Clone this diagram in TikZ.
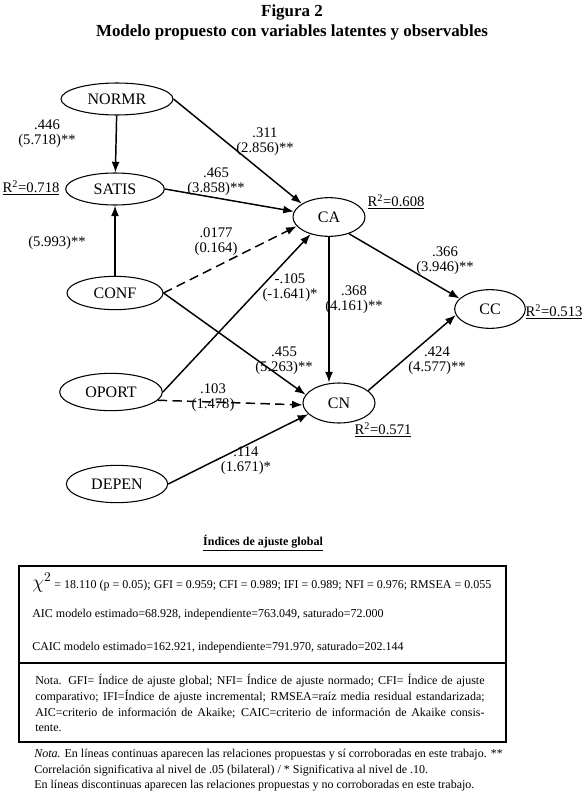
\documentclass[tikz,border=0pt]{standalone}
\usepackage{fontspec}
\setmainfont{Liberation Serif}
\usetikzlibrary{shapes.geometric,arrows.meta}

\begin{document}
\begin{tikzpicture}[x=0.75pt,y=-0.75pt,>={Latex[length=8pt,width=6pt]},
  lat/.style={draw,ellipse,line width=0.8pt,inner sep=0pt,font=\fontsize{12}{13}\selectfont},
  link/.style={->,line width=1.1pt},
  linkns/.style={link,dash pattern=on 7pt off 4pt},
  coef/.style={align=center,inner sep=0pt,font=\fontsize{11}{11.5}\selectfont},
  rsq/.style={inner sep=0pt,font=\fontsize{11}{12}\selectfont},
  boxtxt/.style={anchor=west,inner sep=0pt,font=\fontsize{9}{12}\selectfont}]
  \useasboundingbox (0,0) rectangle (584,803);

  % titulo
  \node[align=center,font=\bfseries\fontsize{12.7}{15}\selectfont] (titulo) at (292,22) {Figura 2\\Modelo propuesto con variables latentes y observables};

  % variables
  \node[lat,minimum width=84pt,minimum height=24pt] (normr) at (117,99) {NORMR};
  \node[lat,minimum width=74pt,minimum height=24pt] (satis) at (115,189) {SATIS};
  \node[lat,minimum width=72pt,minimum height=25pt] (conf) at (115,293) {CONF};
  \node[lat,minimum width=77pt,minimum height=28pt] (oport) at (111,392) {OPORT};
  \node[lat,minimum width=76pt,minimum height=28pt] (depen) at (117,484) {DEPEN};
  \node[lat,minimum width=54pt,minimum height=29pt] (ca) at (329,217) {CA};
  \node[lat,minimum width=53pt,minimum height=29pt] (cc) at (490,309) {CC};
  \node[lat,minimum width=54pt,minimum height=30pt] (cn) at (339,403) {CN};

  % relaciones
  \draw[link] (normr) -- (satis);
  \draw[link] (conf) -- (satis);
  \draw[link] (normr.east) -- (ca.154);
  \draw[link] (satis.east) -- (ca.171);
  \draw[linkns] (conf.east) -- (ca.196);
  \draw[link] (conf.east) -- (cn.166);
  \draw[link] (oport.east) -- (ca.223);
  \draw[linkns] (oport.-10) -- (cn.183);
  \draw[link] (depen.east) -- (cn.200);
  \draw[link] (ca.south) -- (ca.south |- cn.north);
  \draw[link] (ca.-40) -- (cc.161);
  \draw[link] (cn.23) -- (cc.190);

  % coeficientes
  \node[coef] (k1) at (47,134) {.446\\(5.718)**};
  \node[coef] (k2) at (57,243) {(5.993)**};
  \node[coef] (k3) at (265,142) {.311\\(2.856)**};
  \node[coef] (k4) at (216,182) {.465\\(3.858)**};
  \node[coef] (k5) at (216,242) {.0177\\(0.164)};
  \node[coef] (k6) at (290,288) {-.105\\(-1.641)*};
  \node[coef] (k7) at (354,300) {.368\\(4.161)**};
  \node[coef] (k8) at (445,261) {.366\\(3.946)**};
  \node[coef] (k9) at (284,361) {.455\\(5.263)**};
  \node[coef] (k10) at (213,398) {.103\\(1.478)};
  \node[coef] (k11) at (246,461) {.114\\(1.671)*};
  \node[coef] (k12) at (437,361) {.424\\(4.577)**};

  % varianza explicada
  \node[rsq] (r1) at (31,188) {\underline{R\textsuperscript{2}=0.718}};
  \node[rsq] (r2) at (396,202) {\underline{R\textsuperscript{2}=0.608}};
  \node[rsq] (r3) at (554,312) {\underline{R\textsuperscript{2}=0.513}};
  \node[rsq] (r4) at (383,430) {\underline{R\textsuperscript{2}=0.571}};

  % indices de ajuste
  \node[font=\bfseries\fontsize{9}{11}\selectfont,inner sep=0pt] (indices) at (263,543) {\underline{Índices de ajuste global}};
  \draw[line width=1.5pt] (19,566) rectangle (506,742);
  \draw[line width=0.9pt] (19,663) -- (506,663);
  \node[boxtxt] (fila1) at (32,583) {{\fontsize{14}{14}\selectfont$\chi^{2}$} = 18.110 (p = 0.05); GFI = 0.959; CFI = 0.989; IFI = 0.989; NFI = 0.976; RMSEA = 0.055};
  \node[boxtxt] (fila2) at (32,615) {AIC modelo estimado=68.928, independiente=763.049, saturado=72.000};
  \node[boxtxt] (fila3) at (32,648) {CAIC modelo estimado=162.921, independiente=791.970, saturado=202.144};
  \node[anchor=north west,inner sep=0pt,text width=337pt,align=justify,font=\fontsize{9}{11.8}\selectfont] (nota1) at (35,674) {Nota. GFI= Índice de ajuste global; NFI= Índice de ajuste normado; CFI= Índice de ajuste comparativo; IFI=Índice de ajuste incremental; RMSEA=raíz media residual estandarizada; AIC=criterio de información de Akaike; CAIC=criterio de información de Akaike consis-\linebreak tente.};

  % nota final
  \node[anchor=north west,inner sep=0pt,align=left,font=\fontsize{9}{11.6}\selectfont] (nota2) at (34,749) {\textit{Nota.} En líneas continuas aparecen las relaciones propuestas y sí corroboradas en este trabajo. **\\Correlación significativa al nivel de .05 (bilateral) / * Significativa al nivel de .10.\\En líneas discontinuas aparecen las relaciones propuestas y no corroboradas en este trabajo.};
\end{tikzpicture}
\end{document}
